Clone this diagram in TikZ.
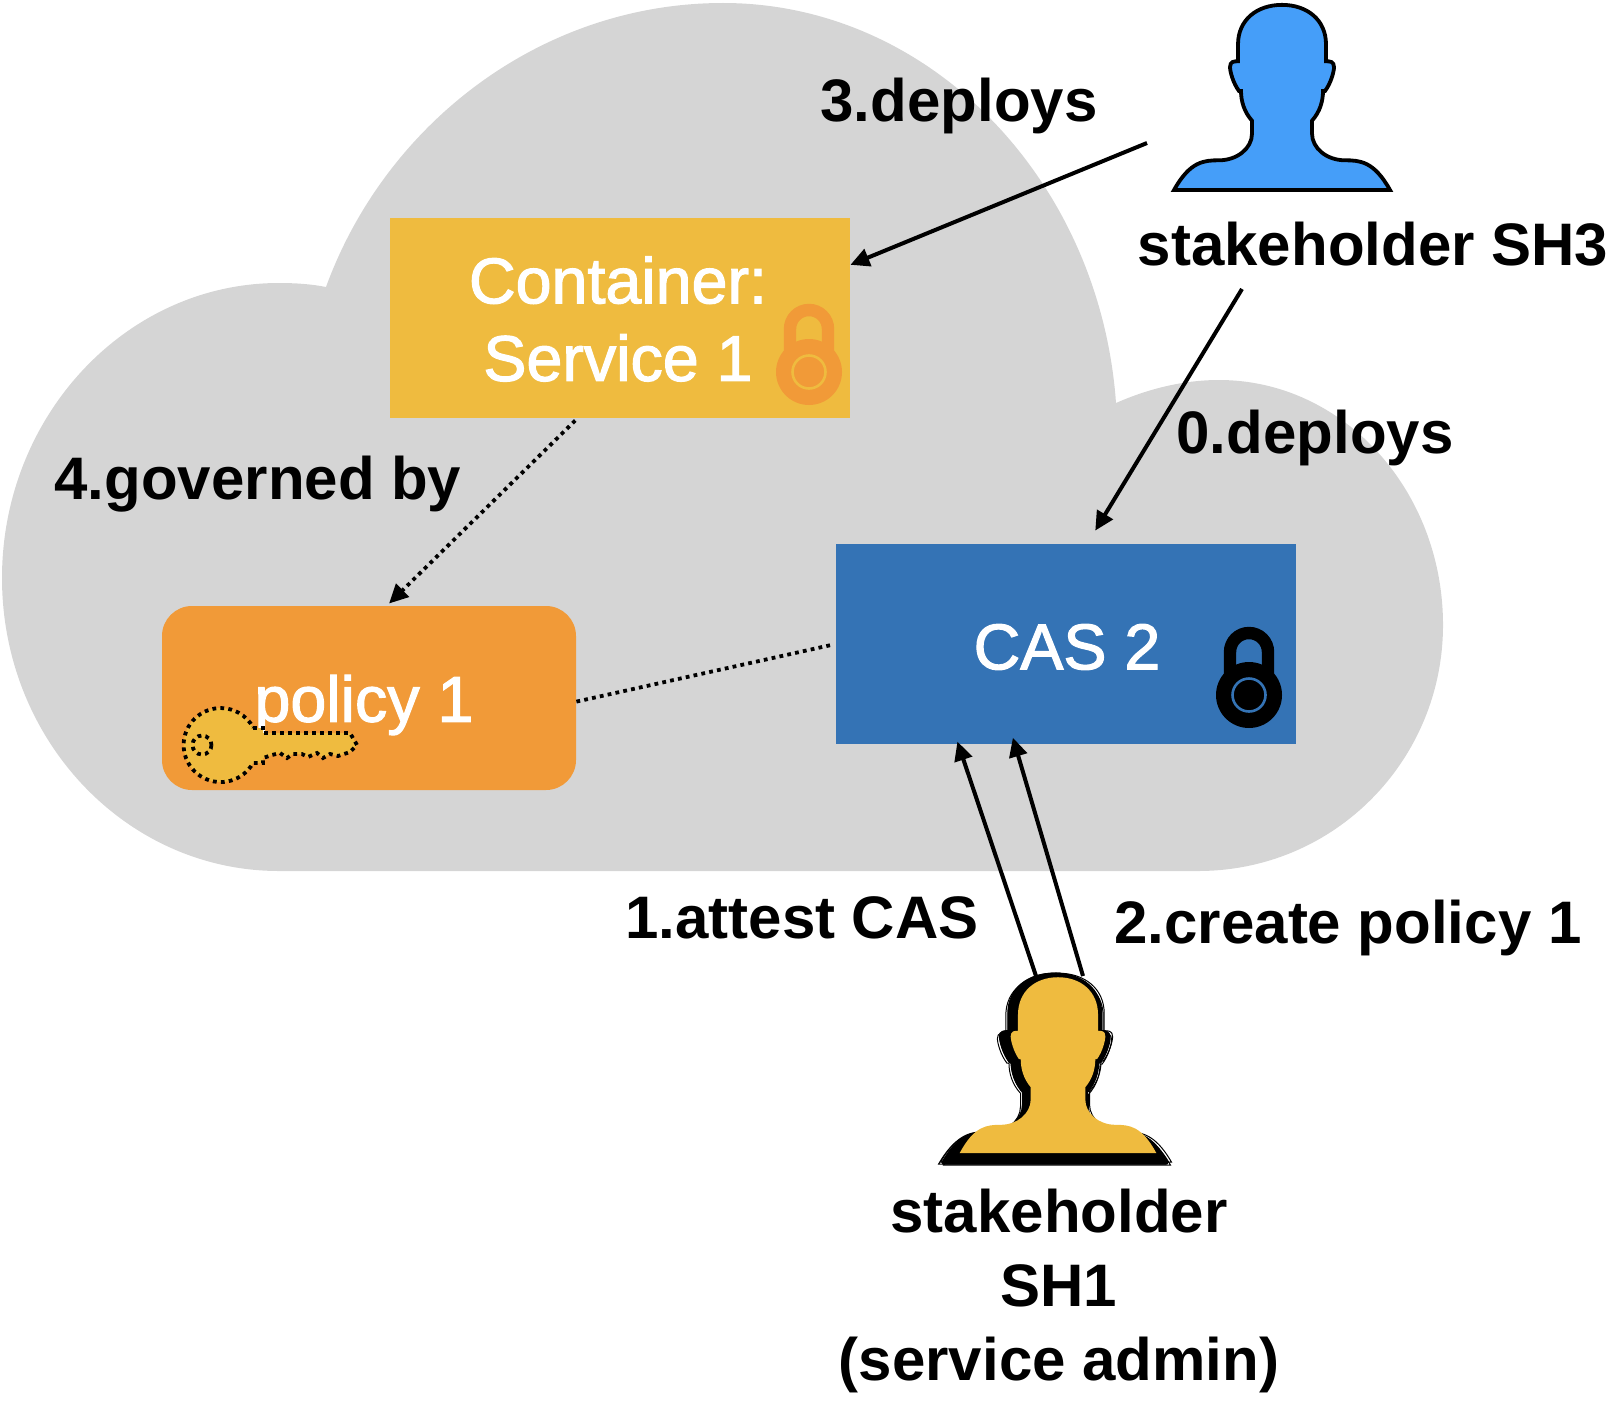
\documentclass[tikz,border=0pt]{standalone}
\usepackage{fontspec}
\setmainfont{Liberation Sans}
\newfontfamily\boxfont[RawFeature={embolden=1.8}]{Liberation Sans}
\usetikzlibrary{arrows.meta}
\definecolor{cloudgray}{HTML}{D5D5D5}
\definecolor{sunyellow}{HTML}{EFBB3F}
\definecolor{warmorange}{HTML}{F19A38}
\definecolor{casblue}{HTML}{3473B5}
\definecolor{skyblue}{HTML}{459EF9}
% head and shoulders, origin at the middle of the bottom edge
\newcommand{\personpath}{(-108,0) .. controls (-92,-29) and (-78,-30) .. (-63,-30)
  .. controls (-45,-30) and (-30,-42) .. (-30,-57) -- (-30,-70)
  .. controls (-38,-79) and (-41,-90) .. (-41,-100) -- (-43,-100)
  .. controls (-49,-108) and (-52,-120) .. (-52,-124) .. controls (-52,-130) and (-48,-130) .. (-44,-130)
  -- (-44,-147) .. controls (-44,-172) and (-25,-187) .. (0,-187)
  .. controls (25,-187) and (44,-172) .. (44,-147) -- (44,-130)
  .. controls (48,-130) and (52,-130) .. (52,-124) .. controls (52,-120) and (49,-108) .. (43,-100)
  -- (41,-100) .. controls (41,-90) and (38,-79) .. (30,-70) -- (30,-57)
  .. controls (30,-42) and (45,-30) .. (63,-30) .. controls (78,-30) and (92,-29) .. (108,0) -- cycle}
\tikzset{
  pics/lock/.style 2 args={code={
    \draw[#1, line width=6.2pt] (-19,0) -- (-19,-43) arc[start angle=180, end angle=360, radius=19] -- (19,0);
    \fill[#1] (0,0) circle[radius=33];
    \draw[#2, line width=1.3pt] (0,0) circle[radius=16.5];
  }}
}
\begin{document}
\begin{tikzpicture}[
  x=0.5pt, y=-0.5pt,
  box/.style={draw=none, minimum width=230pt, minimum height=100pt, inner sep=0pt, text=white, align=center, font=\boxfont\fontsize{32.3}{38.8}\selectfont},
  lbl/.style={inner sep=0pt, align=center, font=\fontsize{30}{37}\selectfont\bfseries},
  arr/.style={line width=2pt, -{Triangle[length=9.5pt,width=9pt]}},
  dots/.style={line width=1.9pt, dash pattern=on 1.9pt off 2.1pt}
]
\useasboundingbox (0,0) rectangle (1620,1402);

% cloud
\fill[cloudgray] (279,871) .. controls (126,871) and (2,740) .. (2,578)
  .. controls (2,416) and (126,283) .. (279,283) .. controls (295,283) and (311,284) .. (326,287)
  .. controls (385,125) and (540,3) .. (723,3) .. controls (930,3) and (1100,180) .. (1116,403)
  .. controls (1150,388) and (1185,380) .. (1219,380) .. controls (1343,380) and (1443,490) .. (1443,625)
  .. controls (1443,760) and (1335,871) .. (1198,871) -- cycle;

% boxes
\node[box, fill=sunyellow] (container) at (620,318) {};
\node[box, fill=casblue] (cas) at (1066,644) {};
\node[box, fill=warmorange, rounded corners=15pt, minimum width=207pt, minimum height=92pt] (policy) at (369,698) {};
\node[box, minimum width=0pt, minimum height=0pt] (containertxt) at (618,319) {Container:\\Service 1};
\node[box, minimum width=0pt, minimum height=0pt] (castxt) at (1067,647) {CAS 2};
\node[box, minimum width=0pt, minimum height=0pt] (policytxt) at (364,705) {policy 1};

% locks
\pic at (809,372) {lock={warmorange}{sunyellow}};
\pic at (1249,695) {lock={black}{casblue}};

% key
\filldraw[fill=sunyellow, dots] (253,728) -- (263,728) -- (263,733) -- (350,733) -- (357,745) -- (350,752)
  -- (338,756) -- (330,754) -- (323,758) -- (317,753) -- (308,757) -- (302,754) -- (293,754) -- (287,758)
  -- (280,753) -- (272,755) -- (263,758) -- (263,763) -- (253,763) arc[start angle=29, end angle=332, radius=37] -- cycle;
\draw[dots] (202,745) circle[radius=9.5];

% stakeholders
\filldraw[skyblue, draw=black, line width=1.9pt, shift={(1282,190)}, yscale=0.99] \personpath;
% sketched outline, a few loose strokes
\filldraw[black, line width=1.6pt, line join=bevel, shift={(1055,1163)}, xscale=1.04, yscale=1.01] \personpath;
\foreach \dx/\dy in {-3/1,2/2,-1/-1,3/-1}
  \draw[black, line width=0.5pt, shift={(1055+\dx,1163+\dy)}, xscale=1.05, yscale=1.01] \personpath;
\fill[sunyellow, shift={(1058,1153)}, xscale=0.91, yscale=0.94] \personpath;

% texts
\node[lbl] (sh3) at (1373,244) {stakeholder SH3};
\node[lbl] (sh1) at (1059,1291) {stakeholder\\SH1\\(service admin)};
\node[lbl] (l3) at (959,106) {3.deploys};
\node[lbl] (l0) at (1315,438) {0.deploys};
\node[lbl] (l4) at (258,484) {4.governed by};
\node[lbl] (l1) at (802,918) {1.attest CAS};
\node[lbl] (l2) at (1348,928) {2.create policy 1};

% connectors
\coordinate (sh3a) at (1147,143);
\coordinate (sh3b) at (1242,289);
\coordinate (sh1a) at (1036,976);
\coordinate (sh1b) at (1083,976);
\draw[arr] (sh3a) -- (container.13.4);
\draw[arr, shorten >=7.6pt] (sh3b) -- (cas.78.7);
\draw[arr, shorten >=-1.5pt] (sh1a) -- (cas.223.6);
\draw[arr, shorten >=-3.5pt] (sh1b) -- (cas.243.4);
\draw[dots, shorten <=1.5pt, shorten >=1.5pt, -{Triangle[length=9.5pt,width=9pt]}] (container.247.2) -- (policy.79.5);
\draw[dots, shorten >=2.5pt] (policy.359.7) -- (cas.180.5);
\end{tikzpicture}
\end{document}
